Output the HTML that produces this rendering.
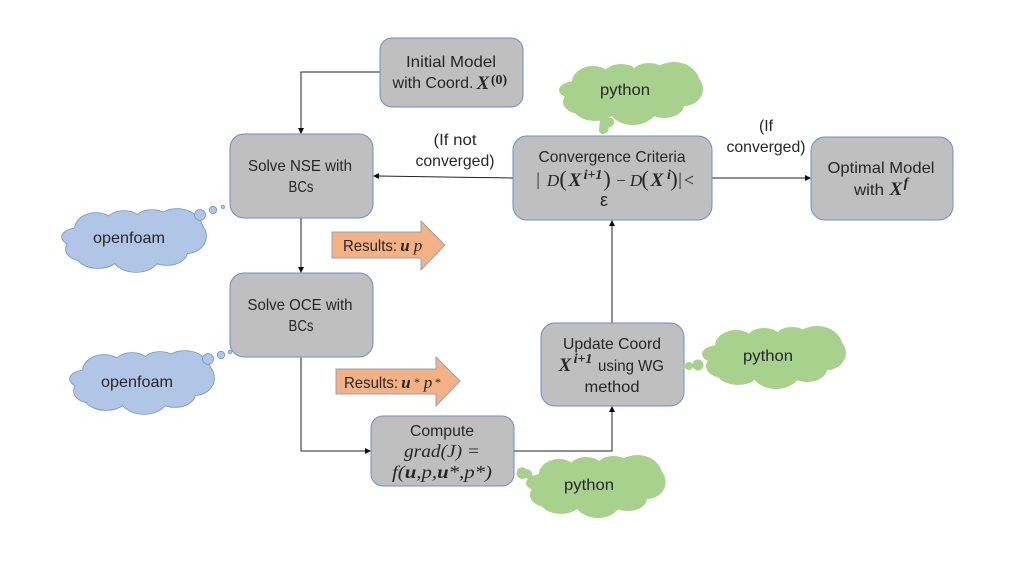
<!DOCTYPE html>
<html><head><meta charset="utf-8">
<style>
html,body{margin:0;padding:0;background:#fff;width:1021px;height:564px;overflow:hidden}
svg{display:block}
text{font-family:"Liberation Sans",sans-serif;font-size:16px;fill:#262626;text-anchor:middle}
.m{font-family:"Liberation Serif",serif;font-size:17px;font-style:italic}
.r{font-family:"Liberation Serif",serif;font-size:17px}
.b{font-family:"Liberation Serif",serif;font-weight:bold;font-style:italic;font-size:19px}
.s{font-family:"Liberation Serif",serif;font-weight:bold;font-size:14px}
.box{fill:#bfbfbf;stroke:#6f8fc0;stroke-width:1}
.ln{fill:none;stroke:#222;stroke-width:1}
.ar{fill:#111}
.blue{fill:#b1c6e7;stroke:#7095ca;stroke-width:1.6}
.bluef{fill:#b1c6e7;stroke:none}
.bub{fill:#b1c6e7;stroke:#7095ca;stroke-width:.8}
.green{fill:#a9d18e}
.or{fill:#f4b183;stroke:#8fa3c4;stroke-width:1}
</style></head><body>
<svg width="1021" height="564" viewBox="0 0 1021 564" xmlns="http://www.w3.org/2000/svg">
<defs>
<filter id="soft" filterUnits="userSpaceOnUse" x="0" y="0" width="1021" height="564"><feGaussianBlur stdDeviation="0.35"/></filter>
<g id="cl">
<ellipse cx="18" cy="30" rx="18" ry="9"/>
<ellipse cx="34" cy="22" rx="21" ry="16"/>
<ellipse cx="62" cy="16" rx="18" ry="12"/>
<ellipse cx="90" cy="15" rx="18" ry="12"/>
<ellipse cx="115" cy="24" rx="26" ry="22"/>
<ellipse cx="125" cy="29" rx="19" ry="17"/>
<ellipse cx="105" cy="45" rx="20" ry="13"/>
<ellipse cx="74" cy="48" rx="24" ry="17"/>
<ellipse cx="36" cy="47" rx="22" ry="14"/>
<ellipse cx="22" cy="42" rx="18" ry="12"/>
<ellipse cx="72" cy="32" rx="55" ry="24"/>
</g>
</defs>
<g filter="url(#soft)">
<!-- connectors -->
<path class="ln" d="M380,72 H301 V129"/>
<path class="ar" d="M301,134 L298,128 H304 Z"/>
<path class="ln" d="M301,218 V268"/>
<path class="ar" d="M301,273 L298,267 H304 Z"/>
<path class="ln" d="M301,357 V451 H366"/>
<path class="ar" d="M371,451 L365,448 V454 Z"/>
<path class="ln" d="M514,451 H612 V411"/>
<path class="ar" d="M612,406 L609,412 H615 Z"/>
<path class="ln" d="M612,323 V225"/>
<path class="ar" d="M612,220 L609,226 H615 Z"/>
<path class="ln" d="M513,178 L378,176"/>
<path class="ar" d="M373,176 L379,173 V179 Z"/>
<path class="ln" d="M712,178 H806"/>
<path class="ar" d="M811,178 L805,175 V181 Z"/>

<!-- boxes -->
<rect class="box" x="380" y="38" width="143" height="69" rx="12"/>
<rect class="box" x="230" y="134" width="143" height="84" rx="14"/>
<rect class="box" x="230" y="273" width="143" height="84" rx="14"/>
<rect class="box" x="513" y="136" width="199" height="84" rx="14"/>
<rect class="box" x="811" y="137" width="142" height="83" rx="14"/>
<rect class="box" x="541" y="323" width="143" height="83" rx="14"/>
<rect class="box" x="371" y="416" width="143" height="70" rx="12"/>

<!-- orange arrows -->
<path class="or" d="M332,232 H421 V221 L445,245 L421,270 V258 H332 Z"/>
<path class="or" d="M336,369 H436 V357 L460,381 L436,406 V394 H336 Z"/>

<!-- clouds -->
<use href="#cl" class="blue" transform="translate(62,207)"/>
<use href="#cl" class="bluef" transform="translate(62,207)"/>
<circle class="bub" cx="200" cy="215" r="5.5"/><circle class="bub" cx="213" cy="210" r="3.7"/><circle class="bub" cx="223" cy="207" r="1.8"/>
<use href="#cl" class="blue" transform="translate(70,349)"/>
<use href="#cl" class="bluef" transform="translate(70,349)"/>
<circle class="bub" cx="208" cy="359" r="5.5"/><circle class="bub" cx="221" cy="355" r="3.7"/><circle class="bub" cx="230" cy="352" r="1.8"/>

<use href="#cl" class="green" transform="translate(559,60)"/>
<path class="green" d="M600,118 L612,118 A5,5 0 0 1 609,127 A8,8 0 0 1 604,134 A4,4 0 0 1 599,130 Z"/>
<use href="#cl" class="green" transform="translate(702,324)"/>
<circle class="green" cx="698" cy="365" r="5.5"/><circle class="green" cx="689" cy="366" r="4"/><circle class="green" cx="684" cy="367" r="2.2"/>
<use href="#cl" class="green" transform="translate(526,453) scale(.97,1)"/>
<path class="green" d="M517,472 A5,4 0 0 1 526,469 A6,5 0 0 1 532,474 L538,484 L526,478 A6,5 0 0 1 517,472 Z"/>

<!-- labels -->
<text x="451" y="67" textLength="90" lengthAdjust="spacingAndGlyphs">Initial Model</text>
<text x="433" y="88" textLength="81" lengthAdjust="spacingAndGlyphs">with Coord.</text>
<text class="b" x="483" y="89">X</text>
<text class="s" x="499" y="84">(0)</text>

<text x="300" y="171" textLength="104" lengthAdjust="spacingAndGlyphs">Solve NSE with</text>
<text x="301" y="192" textLength="25" lengthAdjust="spacingAndGlyphs">BCs</text>
<text x="300" y="310" textLength="105" lengthAdjust="spacingAndGlyphs">Solve OCE with</text>
<text x="301" y="331" textLength="25" lengthAdjust="spacingAndGlyphs">BCs</text>

<text x="612" y="162" textLength="147" lengthAdjust="spacingAndGlyphs">Convergence Criteria</text>
<text class="r" x="538" y="185" style="font-size:18px">|</text>
<text class="m" x="553" y="186">D</text>
<text class="r" x="563" y="186" style="font-size:22px">(</text>
<text class="b" x="575" y="186">X</text>
<text class="s" x="593" y="179" style="font-style:italic">i+1</text>
<text class="r" x="607" y="186" style="font-size:22px">)</text>
<text class="r" x="621" y="186">−</text>
<text class="m" x="636" y="186">D</text>
<text class="r" x="645" y="186" style="font-size:22px">(</text>
<text class="b" x="657" y="186">X</text>
<text class="s" x="669" y="179" style="font-style:italic">i</text>
<text class="r" x="674" y="186" style="font-size:22px">)</text>
<text class="r" x="680" y="185" style="font-size:18px">|</text>
<text class="r" x="689" y="186" style="font-size:18px">&lt;</text>
<text x="604" y="206" style="font-size:18px">&#949;</text>

<text x="881" y="173" textLength="107" lengthAdjust="spacingAndGlyphs">Optimal Model</text>
<text x="869" y="195" textLength="30" lengthAdjust="spacingAndGlyphs">with</text>
<text class="b" x="896" y="195">X</text>
<text class="s" x="906" y="187" style="font-style:italic">f</text>

<text x="612" y="349" textLength="98" lengthAdjust="spacingAndGlyphs">Update Coord</text>
<text class="b" x="565" y="371">X</text>
<text class="s" x="583" y="363" style="font-style:italic">i+1</text>
<text x="631" y="371" textLength="66" lengthAdjust="spacingAndGlyphs">using WG</text>
<text x="612" y="392" textLength="55" lengthAdjust="spacingAndGlyphs">method</text>

<text x="442" y="436" textLength="64" lengthAdjust="spacingAndGlyphs">Compute</text>
<text class="m" x="442" y="457" textLength="76" lengthAdjust="spacingAndGlyphs" style="font-size:18px">grad(J) =</text>
<text class="m" x="442" y="478" textLength="100" lengthAdjust="spacingAndGlyphs" style="font-size:18px">f(<tspan font-weight="bold">u</tspan>,p,<tspan font-weight="bold">u</tspan>*,p*)</text>

<text x="370" y="251" textLength="54" lengthAdjust="spacingAndGlyphs">Results:</text>
<text class="b" x="405" y="251" style="font-size:17px">u</text>
<text class="m" x="418" y="251">p</text>

<text x="371" y="388" textLength="54" lengthAdjust="spacingAndGlyphs">Results:</text>
<text class="b" x="406" y="388" style="font-size:17px">u</text>
<text class="r" x="417" y="386" style="font-size:12px">*</text>
<text class="m" x="428" y="388">p</text>
<text class="r" x="438" y="386" style="font-size:12px">*</text>

<text x="129" y="243" textLength="72" lengthAdjust="spacingAndGlyphs">openfoam</text>
<text x="137" y="387" textLength="72" lengthAdjust="spacingAndGlyphs">openfoam</text>
<text x="625" y="95" textLength="50" lengthAdjust="spacingAndGlyphs">python</text>
<text x="768" y="361" textLength="50" lengthAdjust="spacingAndGlyphs">python</text>
<text x="589" y="490" textLength="50" lengthAdjust="spacingAndGlyphs">python</text>

<text x="455" y="145" textLength="43" lengthAdjust="spacingAndGlyphs">(If not</text>
<text x="455" y="166" textLength="79" lengthAdjust="spacingAndGlyphs">converged)</text>
<text x="766" y="131" textLength="14" lengthAdjust="spacingAndGlyphs">(If</text>
<text x="766" y="152" textLength="79" lengthAdjust="spacingAndGlyphs">converged)</text>
</g>
</svg>
</body></html>
